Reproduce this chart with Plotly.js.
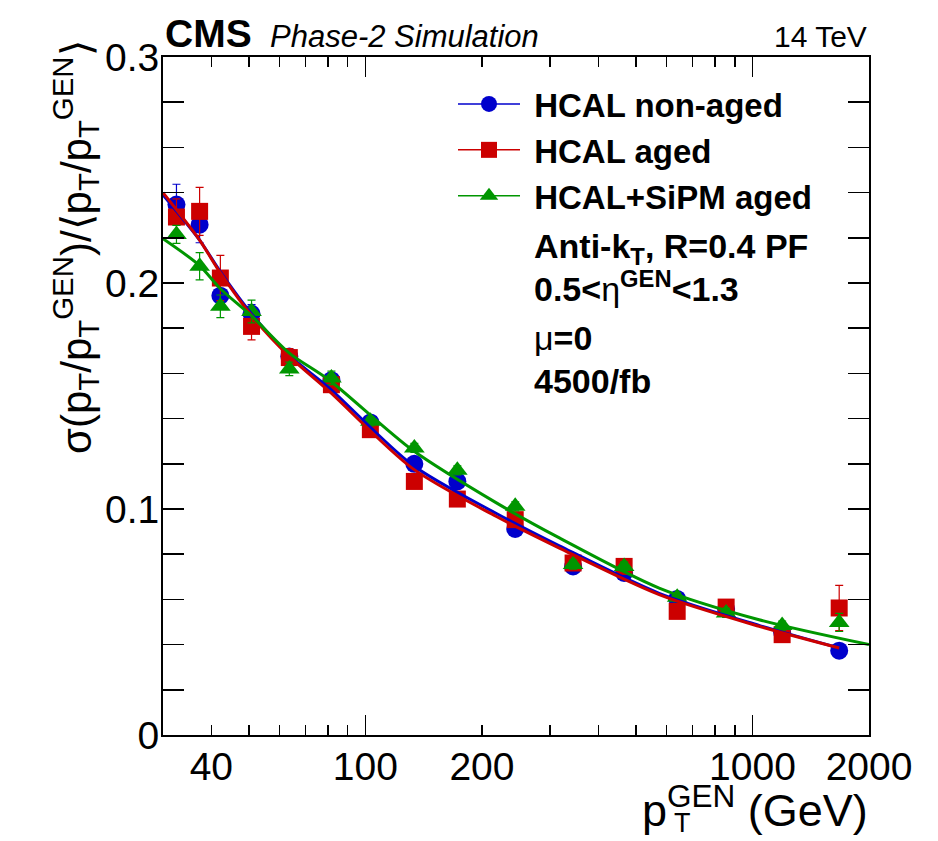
<!DOCTYPE html>
<html>
<head>
<meta charset="utf-8">
<script src="https://cdn.plot.ly/plotly-3.0.1.min.js"></script>
<style>html,body{margin:0;padding:0;background:#fff;}#plot{width:938px;height:841px;}</style>
</head>
<body>
<div id="plot"></div>
<script>
// ---- data ----
const ptBins = [32.5, 37.3, 42.2, 50.8, 63.6, 81.7, 103, 133.8, 172.8, 243.8, 344, 466, 639, 855, 1193, 1675];

const nonAged    = [0.2347, 0.2258, 0.1944, 0.1864, 0.1675, 0.157, 0.1383, 0.120, 0.1122, 0.0912, 0.0746, 0.0717, 0.0602, 0.0558, 0.0454, 0.0373];
const nonAgedErr = [0.009, 0.008, 0.005, 0.004, 0.003, 0.003, 0.002, 0.002, 0.002, 0.002, 0.002, 0.002, 0.002, 0.002, 0.002, 0.003];

const aged    = [0.2292, 0.2317, 0.2022, 0.1808, 0.167, 0.155, 0.1351, 0.1122, 0.1044, 0.0953, 0.0761, 0.0746, 0.0547, 0.0566, 0.0444, 0.0562];
const agedErr = [0.008, 0.0106, 0.010, 0.006, 0.004, 0.003, 0.003, 0.003, 0.002, 0.002, 0.002, 0.002, 0.002, 0.002, 0.002, 0.010];

const sipmAged    = [0.2215, 0.2074, 0.1897, 0.1874, 0.162, 0.158, 0.1388, 0.127, 0.1171, 0.1012, 0.0754, 0.0746, 0.061, 0.054, 0.0484, 0.0498];
const sipmAgedErr = [0.004, 0.006, 0.005, 0.005, 0.003, 0.003, 0.002, 0.002, 0.002, 0.002, 0.002, 0.002, 0.002, 0.002, 0.002, 0.004];

// fit curves, read at sample points
const fitPt      = [30, 37.3, 42, 51, 63.6, 80.7, 132, 218, 317, 574, 1040, 1675];
const fitNonAged = [0.239, 0.219, 0.2055, 0.186, 0.168, 0.1535, 0.1196, 0.098, 0.0837, 0.0627, 0.0485, 0.0385];
const fitAged    = [0.240, 0.219, 0.205, 0.1852, 0.1675, 0.152, 0.1181, 0.0967, 0.0827, 0.0621, 0.0481, 0.0385];
const fitPtSipm  = [30, 37.3, 42, 51, 63.6, 80.7, 132, 218, 317, 574, 1040, 2000];
const fitSipm    = [0.2196, 0.2077, 0.1978, 0.1852, 0.169, 0.157, 0.1262, 0.1027, 0.0872, 0.065, 0.051, 0.040];

const xTickVals = [40, 100, 200, 1000, 2000];
const xTickText = ['40', '100', '200', '1000', '2000'];
const xMajor = [100, 1000];
const xMinor = [40, 50, 60, 70, 80, 90, 200, 300, 400, 500, 600, 700, 800, 900];
const yTickVals = [0, 0.1, 0.2, 0.3];
const yTickText = ['0', '0.1', '0.2', '0.3'];

const seriesNames = ['HCAL non-aged', 'HCAL aged', 'HCAL+SiPM aged'];
// ---- styles ----
const BLUE = '#0000cc', RED = '#cc0000', GREEN = '#009600';
const FONT = 'Liberation Sans, Arial, Helvetica, sans-serif';

function dataTrace(y, err, color, symbol, size) {
  return {
    x: ptBins, y: y, type: 'scatter', mode: 'markers', showlegend: false,
    marker: {color: color, symbol: symbol, size: size},
    error_y: {type: 'data', array: err, visible: true, color: color, thickness: 1.2, width: 4},
    cliponaxis: false
  };
}
function fitTrace(x, y, color) {
  return {x: x, y: y, xaxis: 'x2', type: 'scatter', mode: 'lines', showlegend: false,
    line: {color: color, width: 3, shape: 'spline', smoothing: 0.8}};
}
function legendTrace(name, color, symbol, size) {
  return {x: [null], y: [null], xaxis: 'x2', type: 'scatter', mode: 'lines+markers',
    name: '&nbsp;<b>' + name + '</b>', line: {color: color, width: 1.5},
    marker: {color: color, symbol: symbol, size: size}};
}

const traces = [
  dataTrace(nonAged, nonAgedErr, BLUE, 'circle', 18),
  dataTrace(aged, agedErr, RED, 'square', 17),
  dataTrace(sipmAged, sipmAgedErr, GREEN, 'triangle-up', 18),
  fitTrace(fitPt, fitNonAged, BLUE),
  fitTrace(fitPt, fitAged, RED),
  fitTrace(fitPtSipm, fitSipm, GREEN),
  legendTrace(seriesNames[0], BLUE, 'circle', 16),
  legendTrace(seriesNames[1], RED, 'square', 16),
  legendTrace(seriesNames[2], GREEN, 'triangle-up', 16)
];

const xr = [Math.log10(30), Math.log10(2000)];
const L = 163, T = 57, W = 706, H = 678;
function px(xp) { return (xp - L) / W; }
function py(yp) { return (T + H - yp) / H; }

const layout = {
  width: 938, height: 841,
  margin: {l: L, r: 938 - L - W, t: T, b: 841 - T - H},
  paper_bgcolor: '#fff', plot_bgcolor: '#fff',
  font: {family: FONT, color: '#000'},
  showlegend: true,
  legend: {x: px(453), y: py(76), xanchor: 'left', yanchor: 'top',
    font: {family: FONT, size: 33, color: '#000'}, itemwidth: 62,
    bgcolor: 'rgba(0,0,0,0)', borderwidth: 0, tracegroupgap: 0},
  xaxis: {type: 'log', range: xr, tickmode: 'array', tickvals: xTickVals, ticktext: xTickText,
    ticks: '', showgrid: false, zeroline: false, showline: true, linecolor: '#000', linewidth: 2,
    mirror: true, ticklabelstandoff: -4, tickfont: {family: FONT, size: 39, color: '#000'}},
  xaxis2: {type: 'log', range: xr, overlaying: 'x', anchor: 'y', side: 'bottom', showticklabels: false,
    tickmode: 'array', tickvals: xMajor, ticks: 'inside', ticklen: 20, tickwidth: 1.5, tickcolor: '#000',
    minor: {tickmode: 'array', tickvals: xMinor, ticks: 'inside', ticklen: 10, tickwidth: 1.5, tickcolor: '#000', showgrid: false},
    showgrid: false, zeroline: false, showline: false, mirror: 'allticks'},
  yaxis: {range: [0, 0.3], tickmode: 'array', tickvals: yTickVals, ticktext: yTickText,
    ticks: 'inside', ticklen: 21, tickwidth: 1.5, tickcolor: '#000',
    minor: {tickmode: 'linear', tick0: 0, dtick: 0.02, ticks: 'inside', ticklen: 11, tickwidth: 1.5, tickcolor: '#000', showgrid: false},
    showgrid: false, zeroline: false, showline: true, linecolor: '#000', linewidth: 2, mirror: 'allticks',
    ticklabelstandoff: -6, tickfont: {family: FONT, size: 39, color: '#000'}},
  annotations: [
    {text: '<b>CMS</b>', xref: 'paper', yref: 'paper', x: px(163), y: py(34), xanchor: 'left', yanchor: 'middle',
     showarrow: false, font: {family: FONT, size: 39}},
    {text: '<i>Phase-2 Simulation</i>', xref: 'paper', yref: 'paper', x: px(268), y: py(36), xanchor: 'left', yanchor: 'middle',
     showarrow: false, font: {family: FONT, size: 31}},
    {text: '14 TeV', xref: 'paper', yref: 'paper', x: px(869), y: py(36), xanchor: 'right', yanchor: 'middle',
     showarrow: false, font: {family: FONT, size: 30}},
    {text: '<b>Anti-k<sub>T</sub>, R=0.4 PF</b>', xref: 'paper', yref: 'paper', x: px(532), y: py(248), xanchor: 'left', yanchor: 'middle',
     showarrow: false, font: {family: FONT, size: 34}},
    {text: '<b>0.5<</b>η<sup><b>GEN</b></sup><b><1.3</b>', xref: 'paper', yref: 'paper', x: px(532), y: py(286), xanchor: 'left', yanchor: 'middle',
     showarrow: false, font: {family: FONT, size: 34}},
    {text: 'μ<b>=0</b>', xref: 'paper', yref: 'paper', x: px(532), y: py(338), xanchor: 'left', yanchor: 'middle',
     showarrow: false, font: {family: FONT, size: 34}},
    {text: '<b>4500/fb</b>', xref: 'paper', yref: 'paper', x: px(532), y: py(381), xanchor: 'left', yanchor: 'middle',
     showarrow: false, font: {family: FONT, size: 34}},
    {text: 'p<sup>GEN</sup> (GeV)', xref: 'paper', yref: 'paper', x: px(870), y: py(807), xanchor: 'right', yanchor: 'middle',
     showarrow: false, font: {family: FONT, size: 45}},
    {text: 'T', xref: 'paper', yref: 'paper', x: px(672), y: py(823), xanchor: 'left', yanchor: 'middle',
     showarrow: false, font: {family: FONT, size: 27}},
    {text: 'σ(p<sub>T</sub>/p<sub>T</sub><sup>GEN</sup>)/⟨p<sub>T</sub>/p<sub>T</sub><sup>GEN</sup>⟩', xref: 'paper', yref: 'paper',
     x: px(75), y: py(38), xanchor: 'center', yanchor: 'top', textangle: -90,
     showarrow: false, font: {family: FONT, size: 42}}
  ]
};

Plotly.newPlot('plot', traces, layout, {displayModeBar: false, staticPlot: true});
</script>
</body>
</html>
